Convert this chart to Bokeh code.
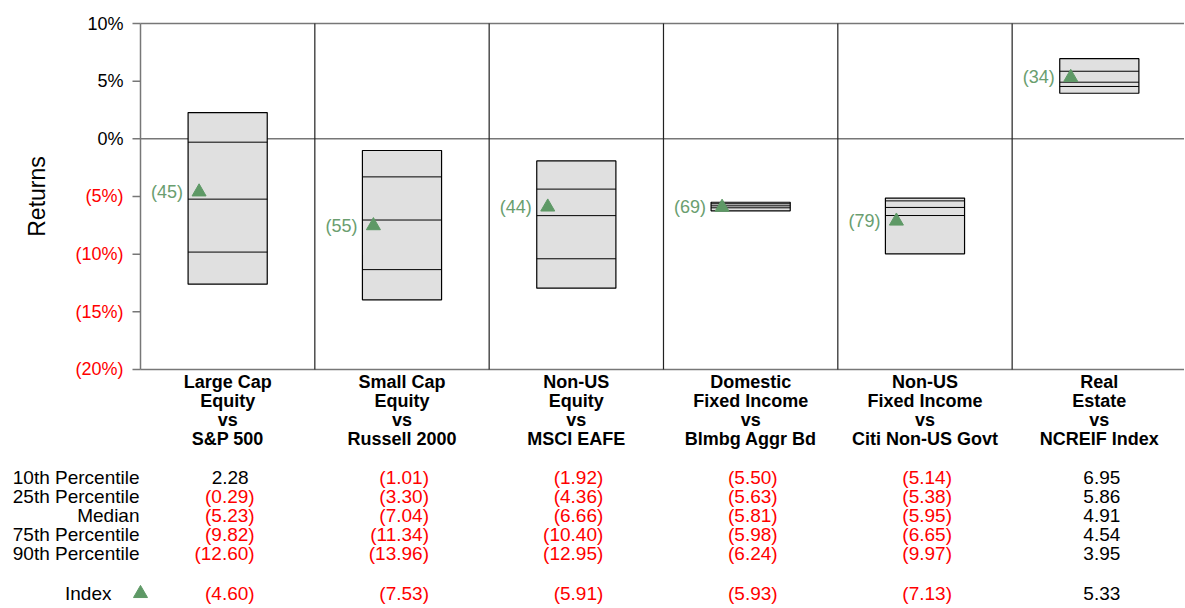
import math
from bokeh.plotting import figure
from bokeh.models import Range1d
from bokeh.core.properties import value
from bokeh.embed import file_html
from bokeh.resources import INLINE

# ---------------- data ----------------
cat_lines = [
    ["Large Cap", "Equity", "vs", "S&P 500"],
    ["Small Cap", "Equity", "vs", "Russell 2000"],
    ["Non-US", "Equity", "vs", "MSCI EAFE"],
    ["Domestic", "Fixed Income", "vs", "Blmbg Aggr Bd"],
    ["Non-US", "Fixed Income", "vs", "Citi Non-US Govt"],
    ["Real", "Estate", "vs", "NCREIF Index"],
]
p10 = [2.28, -1.01, -1.92, -5.50, -5.14, 6.95]
p25 = [-0.29, -3.30, -4.36, -5.63, -5.38, 5.86]
median = [-5.23, -7.04, -6.66, -5.81, -5.95, 4.91]
p75 = [-9.82, -11.34, -10.40, -5.98, -6.65, 4.54]
p90 = [-12.60, -13.96, -12.95, -6.24, -9.97, 3.95]
index_vals = [-4.60, -7.53, -5.91, -5.93, -7.13, 5.33]
index_ranks = [45, 55, 44, 69, 79, 34]
row_labels = ["10th Percentile", "25th Percentile", "Median", "75th Percentile", "90th Percentile"]
y_ticks = [10, 5, 0, -5, -10, -15, -20]

# ---------------- layout ----------------
OX, OY = 0, 0         # page position of the figure
W, H = 1184, 604
PXU = 174.33          # px per panel
PXP = 11.533          # px per percent
def X(px):            # page x -> data x
    return (px - 140) / PXU
def Y(py):            # page y -> data y
    return 10 - (py - 23) / PXP

FONT = value("Liberation Sans")
GREEN_M = "#5e9966"
GREEN_T = "#6a9e6f"
RED = "#ff0000"
TS = "19px"
n = len(p10)
centers = [i + 0.5 for i in range(n)]
half = 0.227

p = figure(width=W, height=H, x_range=Range1d(X(OX), X(OX + W)), y_range=Range1d(Y(OY + H), Y(OY)),
           output_backend="svg", toolbar_location=None,
           x_axis_location=None, y_axis_location=None, min_border=0)
p.outline_line_color = None
p.grid.visible = False

ymin, ymax = min(y_ticks), max(y_ticks)

# frame lines
p.segment(x0=[0, 0], x1=[n, n], y0=[ymax, ymin], y1=[ymax, ymin], line_color="#777777", line_width=1.5)
p.segment(x0=[0], x1=[n], y0=[0], y1=[0], line_color="#777777", line_width=1.5)
p.segment(x0=list(range(1, n)), x1=list(range(1, n)), y0=[ymin] * (n - 1), y1=[ymax] * (n - 1),
          line_color="#222222", line_width=1.2)

# y axis
p.segment(x0=[0], x1=[0], y0=[ymin], y1=[ymax], line_color="#777777", line_width=1.5)
tl = 8 / PXU
p.segment(x0=[-tl] * len(y_ticks), x1=[0] * len(y_ticks), y0=y_ticks, y1=y_ticks,
          line_color="#777777", line_width=1.5)
tick_txt = [f"{t}%" if t >= 0 else f"({abs(t)}%)" for t in y_ticks]
tick_col = ["black" if t >= 0 else RED for t in y_ticks]
p.text(x=[0] * len(y_ticks), y=y_ticks, text=tick_txt, text_color=tick_col, x_offset=-17,
       text_align="right", text_baseline="middle", text_font=FONT, text_font_size="18px")
p.text(x=[X(36)], y=[(ymin + ymax) / 2], text=["Returns"], angle=math.pi / 2,
       text_align="center", text_baseline="middle", text_font=FONT, text_font_size="23px")

# boxes
lefts = [c - half for c in centers]
rights = [c + half for c in centers]
p.quad(left=lefts, right=rights, top=p10, bottom=p90, fill_color="#e0e0e0",
       line_color="black", line_width=1.2)
for arr in (p25, median, p75):
    p.segment(x0=lefts, x1=rights, y0=arr, y1=arr, line_color="black", line_width=1)

# index markers
tri_dx = 11 / PXU
p.scatter(x=[l + tri_dx for l in lefts], y=index_vals, marker="triangle", size=14,
          fill_color=GREEN_M, line_color=GREEN_M)
p.text(x=lefts, y=index_vals, text=[f"({r})" for r in index_ranks], x_offset=-5,
       text_align="right", text_baseline="middle", text_color=GREEN_T,
       text_font=FONT, text_font_size="18px")

# category labels
for li in range(4):
    p.text(x=centers, y=[Y(381 + 19 * li)] * n, text=[c[li] for c in cat_lines],
           text_align="center", text_baseline="middle", text_font=FONT,
           text_font_size="18px", text_font_style="bold")

# table
def fmt(v):
    return f"{v:.2f}" if v >= 0 else f"({abs(v):.2f})"

rows = [p10, p25, median, p75, p90]
for ri, (lab, arr) in enumerate(zip(row_labels, rows)):
    yy = Y(477 + 19 * ri)
    p.text(x=[0], y=[yy], text=[lab], x_offset=-1, text_align="right", text_baseline="middle",
           text_font=FONT, text_font_size=TS)
    for v, c in zip(arr, centers):
        p.text(x=[c], y=[yy], text=[fmt(v)], x_offset=27 if v < 0 else 21,
               text_color=RED if v < 0 else "black", text_align="right", text_baseline="middle",
               text_font=FONT, text_font_size=TS)

yi = Y(593)
p.text(x=[0], y=[yi], text=["Index"], x_offset=-29, text_align="right", text_baseline="middle",
       text_font=FONT, text_font_size=TS)
p.scatter(x=[0], y=[yi], marker="triangle", size=14, fill_color=GREEN_M, line_color=GREEN_M)
for v, c in zip(index_vals, centers):
    p.text(x=[c], y=[yi], text=[fmt(v)], x_offset=27 if v < 0 else 21,
           text_color=RED if v < 0 else "black", text_align="right", text_baseline="middle",
           text_font=FONT, text_font_size=TS)

open("out.html", "w").write(file_html(p, INLINE))
